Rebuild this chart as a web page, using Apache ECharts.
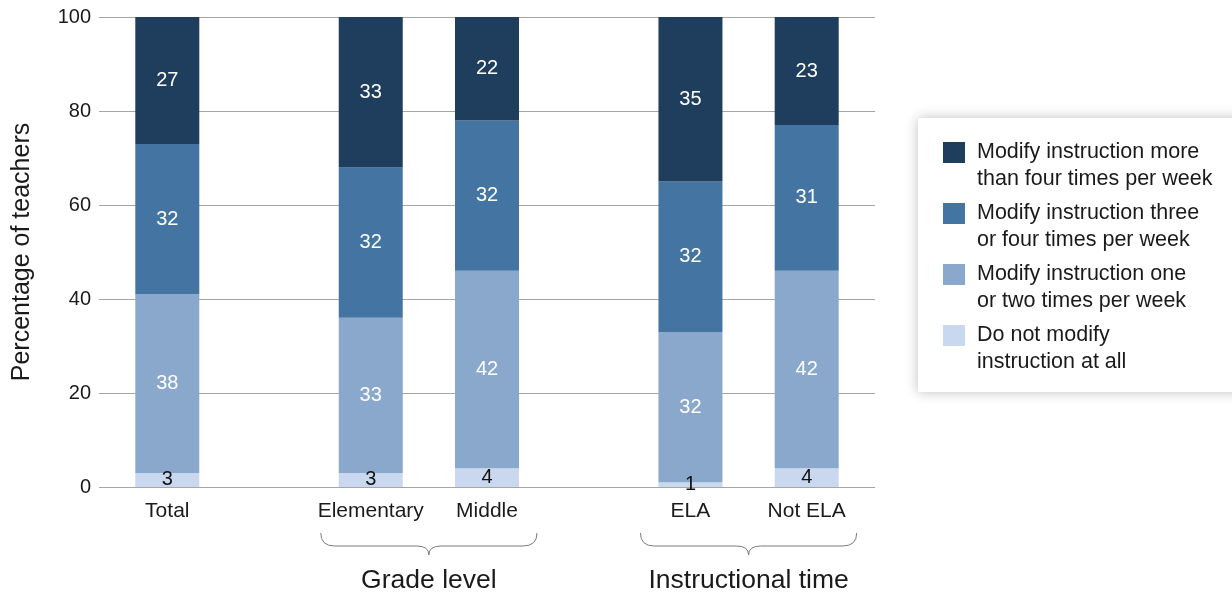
<!DOCTYPE html>
<html>
<head>
<meta charset="utf-8">
<script src="https://cdn.jsdelivr.net/npm/echarts@6/dist/echarts.min.js"></script>
<style>
  html, body { margin: 0; background: #fff; }
  #main { width: 1232px; height: 594px; }
</style>
</head>
<body>
<div id="main"></div>
<script>
var myChart = echarts.init(document.getElementById('main'));

// data
var categories = ['Total', 'Elementary', 'Middle', 'ELA', 'Not ELA'];
var groupOf = [0, 1, 1, 2, 2];
var groupNames = ['', 'Grade level', 'Instructional time'];

// series, bottom of the stack first
var seriesNames = [
    'Do not modify\ninstruction at all',
    'Modify instruction one\nor two times per week',
    'Modify instruction three\nor four times per week',
    'Modify instruction more\nthan four times per week'
];
var notAtAll     = [3, 3, 4, 1, 4];
var oneOrTwo     = [38, 33, 42, 32, 42];
var threeOrFour  = [32, 32, 32, 32, 31];
var moreThanFour = [27, 33, 22, 35, 23];

var colors = ['#c9d8ef', '#89a8cb', '#4474a1', '#1f3d5c'];
var labelColors = ['#111', '#fff', '#fff', '#fff'];
var font = '"Liberation Sans", Arial, Helvetica, sans-serif';

// x slot of each bar: 4 units apart inside a group, 7 between groups
var slot = categories.map(function (c, i) { return i * 4 + groupOf[i] * 3; });

var values = [notAtAll, oneOrTwo, threeOrFour, moreThanFour];
var series = values.map(function (vals, k) {
    return {
        name: seriesNames[k],
        type: 'bar',
        stack: 'all',
        barWidth: 64,
        clip: true,
        // value first so that the stack runs along y
        data: vals.map(function (v, i) { return [v, slot[i]]; }),
        encode: { x: 1, y: 0 },
        itemStyle: { color: colors[k] },
        label: {
            show: true,
            position: 'inside',
            color: labelColors[k],
            fontSize: 20,
            fontFamily: font,
            formatter: function (p) { return p.value[0]; }
        },
        emphasis: { disabled: true }
    };
});

option = {
    animation: false,
    grid: { left: 99, right: 357, top: 17, bottom: 107 },
    xAxis: {
        type: 'value',
        min: -2.35,
        max: 24.35,
        show: false
    },
    yAxis: {
        type: 'value',
        min: 0,
        max: 100,
        interval: 20,
        name: 'Percentage of teachers',
        nameLocation: 'middle',
        nameGap: 64,
        nameTextStyle: { fontSize: 25, color: '#1a1a1a', fontFamily: font },
        axisLine: { show: false },
        axisTick: { show: false },
        axisLabel: { fontSize: 20, color: '#1a1a1a', margin: 8, fontFamily: font },
        splitLine: { lineStyle: { color: '#a6a6a6', width: 1 } }
    },
    legend: {
        data: seriesNames.slice().reverse(),
        orient: 'vertical',
        left: 918,
        top: 118,
        padding: [21, 30, 16, 25],
        itemGap: 7,
        itemWidth: 29,
        itemHeight: 48,
        icon: 'path://M0,0h22v21h-22z M29,48h0.01v0.01h-0.01z',
        selectedMode: false,
        backgroundColor: '#fff',
        shadowBlur: 12,
        shadowColor: 'rgba(0,0,0,0.25)',
        textStyle: { fontSize: 21.5, lineHeight: 27, color: '#1a1a1a', fontFamily: font }
    },
    series: series
};

myChart.setOption(option);

// category labels, braces and group names under the axis
var graphics = [];
slot.forEach(function (s, i) {
    var p = myChart.convertToPixel({ gridIndex: 0 }, [s, 0]);
    graphics.push({
        type: 'text', x: p[0], y: p[1] + 24,
        style: { text: categories[i], fontSize: 21, fontFamily: font, fill: '#1a1a1a',
                 align: 'center', verticalAlign: 'middle', textAlign: 'center', textVerticalAlign: 'middle' }
    });
});

groupNames.forEach(function (g, gi) {
    if (!g) return;
    var idx = [];
    groupOf.forEach(function (v, i) { if (v === gi) idx.push(i); });
    var a = myChart.convertToPixel({ gridIndex: 0 }, [slot[idx[0]], 0]);
    var b = myChart.convertToPixel({ gridIndex: 0 }, [slot[idx[idx.length - 1]], 0]);
    var L = a[0] - 50, R = b[0] + 50, C = (L + R) / 2;
    var top = a[1] + 46, mid = a[1] + 59, tip = a[1] + 68;
    var st = { stroke: '#7a7a7a', lineWidth: 1, fill: null };
    graphics.push(
        { type: 'bezierCurve', shape: { x1: L, y1: top, cpx1: L, cpy1: mid, x2: L + 14, y2: mid }, style: st },
        { type: 'line', shape: { x1: L + 14, y1: mid, x2: C - 12, y2: mid }, style: st },
        { type: 'bezierCurve', shape: { x1: C - 12, y1: mid, cpx1: C, cpy1: mid, x2: C, y2: tip }, style: st },
        { type: 'bezierCurve', shape: { x1: C, y1: tip, cpx1: C, cpy1: mid, x2: C + 12, y2: mid }, style: st },
        { type: 'line', shape: { x1: C + 12, y1: mid, x2: R - 14, y2: mid }, style: st },
        { type: 'bezierCurve', shape: { x1: R - 14, y1: mid, cpx1: R, cpy1: mid, x2: R, y2: top }, style: st },
        {
            type: 'text', x: C, y: a[1] + 94,
            style: { text: g, fontSize: 26.5, fontFamily: font, fill: '#1a1a1a',
                     align: 'center', verticalAlign: 'middle', textAlign: 'center', textVerticalAlign: 'middle' }
        }
    );
});

myChart.setOption({ graphic: graphics });
</script>
</body>
</html>
